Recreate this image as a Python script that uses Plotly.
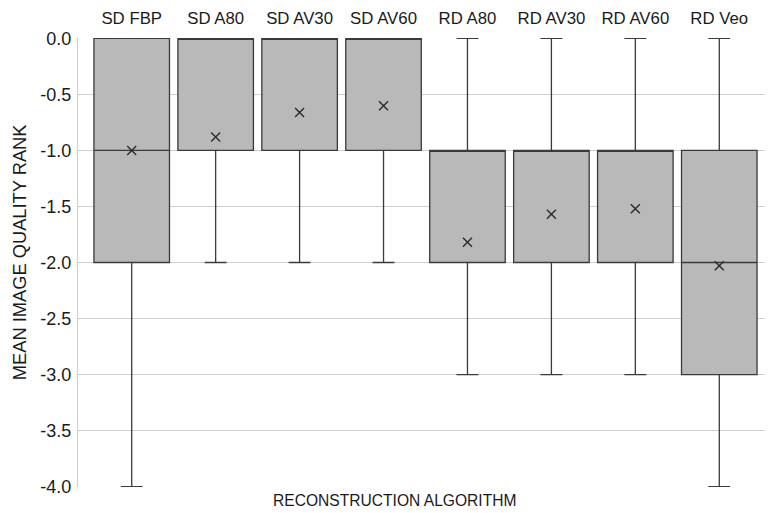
import plotly.graph_objects as go

categories = ["SD FBP", "SD A80", "SD AV30", "SD AV60", "RD A80", "RD AV30", "RD AV60", "RD Veo"]
q1 = [-2, -1, -1, -1, -2, -2, -2, -3]
median = [-1, 0, 0, 0, -1, -1, -1, -2]
q3 = [0, 0, 0, 0, -1, -1, -1, -1]
lower_whisker = [-4, -2, -2, -2, -3, -3, -3, -4]
upper_whisker = [0, 0, 0, 0, 0, 0, 0, 0]
means = [-1.0, -0.88, -0.66, -0.60, -1.82, -1.57, -1.52, -2.03]
y_ticks = [0.0, -0.5, -1.0, -1.5, -2.0, -2.5, -3.0, -3.5, -4.0]

fig = go.Figure()
fig.add_trace(go.Box(
    x=categories, q1=q1, median=median, q3=q3,
    lowerfence=lower_whisker, upperfence=upper_whisker,
    fillcolor="#b9b9b9", line=dict(color="#3a3a3a", width=1.3),
    width=0.9, whiskerwidth=0.29, boxpoints=False, showlegend=False,
    hoverinfo="skip"))
fig.add_trace(go.Scatter(
    x=categories, y=means, mode="markers",
    marker=dict(symbol="x-thin", size=9, line=dict(color="#2a2a2a", width=1.4)),
    showlegend=False, hoverinfo="skip"))

# page body has an 8px margin, so the figure is offset by 8px
fig.update_layout(
    width=765, height=505,
    margin=dict(l=70, r=0, t=30, b=26),
    plot_bgcolor="white", paper_bgcolor="white",
    font=dict(family="Liberation Sans, Arial, sans-serif", size=15, color="#1a1a1a"),
    xaxis=dict(side="top", type="category", range=[-0.64, 7.64], automargin=False,
               showgrid=False, showline=False, ticks="", ticklen=0,
               ticklabelstandoff=10, tickfont=dict(size=16.8)),
    yaxis=dict(range=[-4.004, 0.004], tickvals=y_ticks, automargin=False,
               ticktext=[f"{v:.1f}" for v in y_ticks],
               showgrid=True, gridcolor="#cfcfcf", gridwidth=1.3,
               zeroline=False, showline=True, linecolor="#cfcfcf", linewidth=1.3,
               ticks="", ticklabelstandoff=2, tickfont=dict(size=18)),
    annotations=[
        dict(text="RECONSTRUCTION ALGORITHM", xref="paper", yref="paper",
             x=0.455, y=0, yshift=-13, xanchor="center", yanchor="middle",
             showarrow=False, font=dict(size=15.6)),
        dict(text="MEAN IMAGE QUALITY RANK", xref="paper", yref="paper",
             x=0, xshift=-59, y=0.523, xanchor="center", yanchor="middle",
             textangle=-90, showarrow=False, font=dict(size=18.3)),
    ],
)
fig.write_html("out.html")
